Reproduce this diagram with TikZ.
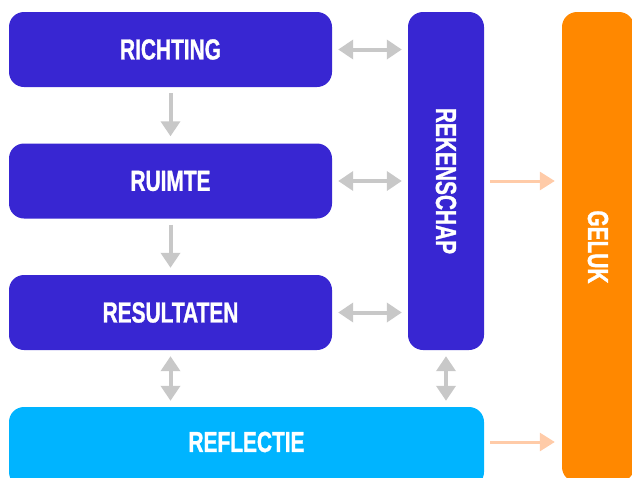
\documentclass[tikz,border=0pt]{standalone}
\usepackage{fontspec}
\setmainfont{Liberation Sans}[FakeStretch=0.72,BoldFeatures={FakeBold=1}]
\usetikzlibrary{arrows.meta,positioning}

\definecolor{indigo}{RGB}{56,38,210}
\definecolor{skyblue}{RGB}{0,180,255}
\definecolor{gelukorange}{RGB}{255,136,0}
\definecolor{arrowgray}{RGB}{200,200,200}
\definecolor{peach}{RGB}{255,203,168}

\begin{document}
\begin{tikzpicture}
	[x=1pt,y=-1pt,
	 every node/.style={rounded corners=15pt,text=white,inner sep=0pt,font=\fontsize{29}{34}\selectfont\bfseries},
	 stap/.style={fill=indigo,minimum width=323pt,minimum height=75pt},
	 down/.style={draw=arrowgray,line width=4pt,-{Triangle[length=15pt,width=19pt]},shorten <=6pt,shorten >=7pt},
	 twoway/.style={draw=arrowgray,line width=4pt,{Triangle[length=15pt,width=19pt]}-{Triangle[length=15pt,width=19pt]},shorten <=6pt,shorten >=6pt},
	 oneway/.style={draw=peach,line width=3pt,-{Triangle[length=15pt,width=18pt]},shorten <=6pt,shorten >=7pt}]

	\useasboundingbox (0,0) rectangle (632,477);

	\node[stap] (richting) at (170.5,49.5) {RICHTING};
	\node[stap] (ruimte) at (170.5,181) {RUIMTE};
	\node[stap] (resultaten) at (170.5,312.5) {RESULTATEN};
	\node[fill=skyblue,minimum width=475pt,minimum height=80pt,
		label={[yshift=5pt]center:REFLECTIE}] (reflectie) at (246.5,447) {};
	\node[fill=indigo,minimum width=76pt,minimum height=338pt,
		label={[rotate=-90]center:REKENSCHAP}] (rekenschap) at (446,181) {};
	\node[fill=gelukorange,minimum width=72pt,minimum height=470pt,
		label={[rotate=-90]center:GELUK}] (geluk) at (598,247) {};

	\path (richting) edge[down] (ruimte);
	\path (ruimte) edge[down] (resultaten);
	\path (resultaten.south) edge[twoway] (resultaten.south |- reflectie.north);
	\path (richting.east) edge[twoway] (richting.east -| rekenschap.west);
	\path (ruimte.east) edge[twoway] (ruimte.east -| rekenschap.west);
	\path (resultaten.east) edge[twoway] (resultaten.east -| rekenschap.west);
	\path (rekenschap.south) edge[twoway] (rekenschap.south |- reflectie.north);
	\path (rekenschap.east) edge[oneway] (rekenschap.east -| geluk.west);
	\path ([yshift=5pt]reflectie.east) edge[oneway] ([yshift=5pt]reflectie.east -| geluk.west);
\end{tikzpicture}
\end{document}
